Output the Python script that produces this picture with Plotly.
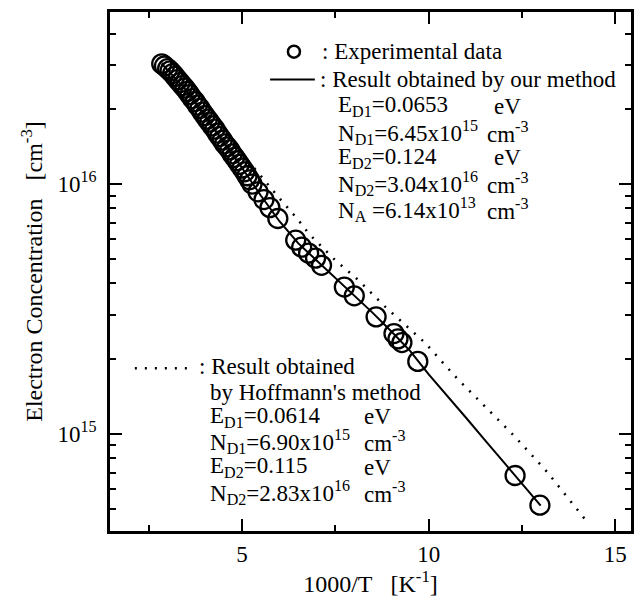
import plotly.graph_objects as go

# ---------------- data ----------------
exp_x = [2.846, 2.920, 3.005, 3.070, 3.138, 3.200, 3.271, 3.340, 3.404, 3.470,
         3.537, 3.600, 3.670, 3.740, 3.803, 3.870, 3.936, 4.000, 4.069, 4.130,
         4.202, 4.270, 4.335, 4.400, 4.468, 4.530, 4.601, 4.670, 4.734, 4.800,
         4.867, 4.930, 5.000, 5.070, 5.133, 5.200, 5.266, 5.426,
         5.585, 5.745, 5.957, 6.436, 6.596, 6.782, 6.968, 7.128, 7.739, 8.005,
         8.590, 9.069, 9.176, 9.282, 9.707, 12.314, 12.979]
exp_n = [3.03e16, 2.97e16, 2.90e16, 2.84e16, 2.77e16, 2.70e16, 2.62e16, 2.55e16, 2.48e16, 2.42e16,
         2.35e16, 2.28e16, 2.20e16, 2.14e16, 2.07e16, 2.01e16, 1.94e16, 1.88e16, 1.82e16, 1.77e16,
         1.71e16, 1.66e16, 1.60e16, 1.55e16, 1.50e16, 1.45e16, 1.41e16, 1.37e16, 1.32e16, 1.28e16,
         1.24e16, 1.20e16, 1.16e16, 1.12e16, 1.08e16, 1.04e16, 1.00e16, 9.31e15,
         8.67e15, 8.05e15, 7.28e15, 5.96e15, 5.59e15, 5.29e15, 5.05e15, 4.73e15, 3.87e15, 3.57e15,
         2.94e15, 2.52e15, 2.40e15, 2.32e15, 1.95e15, 6.81e14, 5.18e14]

ours_x = [2.85, 3.5, 4.0, 4.5, 5.0, 5.5, 6.0, 6.5, 7.0, 7.5, 8.0, 8.5, 9.0, 9.5,
          10.0, 10.5, 11.0, 11.5, 12.0, 12.5, 13.0]
ours_n = [3.03e16, 2.38e16, 1.88e16, 1.48e16, 1.16e16, 9.0e15, 7.1e15, 5.8e15, 4.95e15, 4.2e15,
          3.58e15, 3.05e15, 2.57e15, 2.15e15, 1.73e15, 1.42e15, 1.16e15, 9.46e14, 7.73e14,
          6.31e14, 5.16e14]

hoff_x = [2.85, 3.5, 4.0, 4.5, 5.0, 5.452, 5.984, 6.516, 6.782, 7.5, 8.112, 8.83,
          9.894, 10.771, 11.569, 12.287, 13.165, 14.229]
hoff_n = [3.05e16, 2.45e16, 1.98e16, 1.62e16, 1.32e16, 1.10e16, 8.83e15, 7.15e15, 6.34e15,
          4.95e15, 4.13e15, 3.23e15, 2.32e15, 1.66e15, 1.26e15, 9.82e14, 7.06e14, 4.47e14]

x_major = [5, 10, 15]
x_minor = [2.5, 7.5, 12.5]
y_major = [1e15, 1e16]
y_major_text = ["10<sup>15</sup>", "10<sup>16</sup>"]
y_minor = [m * 10 ** e for e in (14, 15, 16) for m in range(2, 10)]

ours_params = [("E<sub>D1</sub>=0.0653", "eV"),
               ("N<sub>D1</sub>=6.45x10<sup>15</sup>", "cm<sup>-3</sup>"),
               ("E<sub>D2</sub>=0.124", "eV"),
               ("N<sub>D2</sub>=3.04x10<sup>16</sup>", "cm<sup>-3</sup>"),
               ("N<sub>A</sub> =6.14x10<sup>13</sup>", "cm<sup>-3</sup>")]
hoff_params = [("E<sub>D1</sub>=0.0614", "eV"),
               ("N<sub>D1</sub>=6.90x10<sup>15</sup>", "cm<sup>-3</sup>"),
               ("E<sub>D2</sub>=0.115", "eV"),
               ("N<sub>D2</sub>=2.83x10<sup>16</sup>", "cm<sup>-3</sup>")]

# ---------------- layout geometry ----------------
W, H = 643, 598
L, R, T, B = 110, 634, 10, 533
FONT = "Liberation Serif"
FS = 23
FS_TICK = 23
FS_TITLE = 24


def px(x):
    return (x - L) / (R - L)


def py(y):
    return 1 - (y - T) / (B - T)


fig = go.Figure()
fig.add_trace(go.Scatter(x=hoff_x, y=hoff_n, mode="lines",
                         line=dict(color="black", width=2.5, dash="2px,8px"),
                         showlegend=False))
fig.add_trace(go.Scatter(x=ours_x, y=ours_n, mode="lines",
                         line=dict(color="black", width=2), showlegend=False))
fig.add_trace(go.Scatter(x=exp_x, y=exp_n, mode="markers",
                         marker=dict(symbol="circle-open", size=19, color="black",
                                     line=dict(width=2.3, color="black")),
                         showlegend=False))

axis_common = dict(showline=True, linecolor="black", linewidth=2.5, mirror="ticks",
                   ticks="inside", tickcolor="black", tickwidth=2, ticklen=12,
                   showgrid=False, zeroline=False,
                   tickfont=dict(family=FONT, size=FS_TICK, color="black"))

fig.update_xaxes(range=[1.46, 15.42], tickmode="array", tickvals=x_major,
                 ticktext=[str(v) for v in x_major],
                 minor=dict(tickmode="array", tickvals=x_minor, ticks="inside",
                            ticklen=6, tickwidth=2, tickcolor="black"),
                 title=dict(text="1000/T&nbsp;&nbsp;&nbsp;[K<sup>-1</sup>]",
                            font=dict(family=FONT, size=FS_TITLE, color="black"), standoff=5),
                 ticklabelstandoff=1,
                 **axis_common)
fig.update_yaxes(type="log", range=[14.611, 16.689], tickmode="array", tickvals=y_major,
                 ticktext=y_major_text,
                 minor=dict(tickmode="array", tickvals=y_minor, ticks="inside",
                            ticklen=6, tickwidth=2, tickcolor="black"),
                 title=dict(text="Electron Concentration&nbsp;&nbsp;&nbsp;[cm<sup>-3</sup>]",
                            font=dict(family=FONT, size=FS_TITLE, color="black"), standoff=9),
                 ticklabelstandoff=6,
                 **axis_common)

ann = []
shapes = []


def text(x, y, s, anchor="left"):
    ann.append(dict(x=px(x), y=py(y), xref="paper", yref="paper", text=s, showarrow=False,
                    xanchor=anchor, yanchor="middle",
                    font=dict(family=FONT, size=FS, color="black")))


# top legend
shapes.append(dict(type="circle", xref="paper", yref="paper", xsizemode="pixel",
                   ysizemode="pixel", xanchor=px(295), yanchor=py(50),
                   x0=-6, x1=6, y0=-6, y1=6, line=dict(color="black", width=2.5)))
text(321, 50, ": Experimental data")
shapes.append(dict(type="line", xref="paper", yref="paper", x0=px(271), x1=px(316),
                   y0=py(78), y1=py(78), line=dict(color="black", width=2)))
text(319, 78, ": Result obtained by our method")
for i, (a, b) in enumerate(ours_params):
    yy = [105, 131, 157, 183, 209][i]
    text(337, yy, a)
    text(494 if b == "eV" else 487, yy, b)

# bottom legend
shapes.append(dict(type="line", xref="paper", yref="paper", x0=px(135), x1=px(194),
                   y0=py(369), y1=py(369),
                   line=dict(color="black", width=2.5, dash="2px,8px")))
text(198, 367, ": Result obtained")
text(209, 393, "by Hoffmann's method")
for i, (a, b) in enumerate(hoff_params):
    yy = [418, 443, 469, 494][i]
    text(209, yy, a)
    text(363, yy, b)

fig.update_layout(width=W, height=H, margin=dict(l=L, r=W - R, t=T, b=H - B),
                  plot_bgcolor="white", paper_bgcolor="white",
                  annotations=ann, shapes=shapes, showlegend=False,
                  font=dict(family=FONT, size=FS, color="black"))

fig.write_html("out.html")
